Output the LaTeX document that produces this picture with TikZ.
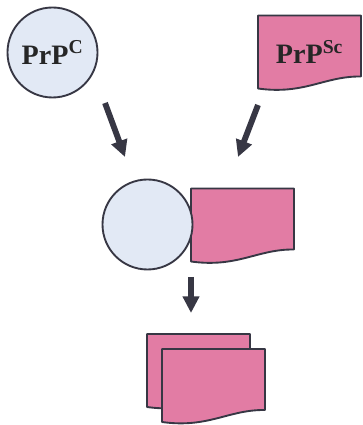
\documentclass[tikz,border=0pt]{standalone}
\usepackage{fontspec}
\setmainfont{Liberation Serif}
\definecolor{prpblue}{RGB}{226,233,245}
\definecolor{prppink}{RGB}{226,124,164}
\definecolor{prpdark}{RGB}{55,55,68}
\usetikzlibrary{arrows.meta,calc}

% folded "document" outline of a PrPSc unit, text node on top
\newcommand{\prpdoc}[3]{%
  \draw[docline] ($(#2)+(-51.5,36.5)$) -- ($(#2)+(51.5,36.5)$) -- ($(#2)+(51.5,-24.5)$)
    .. controls ($(#2)+(15,-24)$) and ($(#2)+(-5,-43)$) .. ($(#2)+(-51.5,-36.5)$) -- cycle;
  \node[prlabel] (#1) at (#2) {#3};}

\begin{document}
\begin{tikzpicture}[x=0.03cm, y=0.03cm,
  prion/.style={circle, draw=prpdark, line width=1.6pt, fill=prpblue, minimum size=2.7cm, inner sep=0pt},
  docline/.style={draw=prpdark, line width=1.6pt, fill=prppink, line join=round},
  prlabel/.style={font=\fontsize{24}{24}\selectfont\bfseries, text=black!85, inner sep=0pt},
  bigarrow/.style={prpdark, line width=5pt, -{Triangle[length=0.5cm,width=0.48cm]}}]
\useasboundingbox (0,0) rectangle (362,425);
% top row
\node[prion, prlabel, draw=prpdark, fill=prpblue, minimum size=2.7cm] (prpc) at (52.5,372.5) {PrP\textsuperscript{C}};
\prpdoc{prpsc}{309.5,373}{PrP\textsuperscript{Sc}}
% converging arrows
\coordinate (tailL) at (105,322);
\coordinate (tipL) at (125,268);
\coordinate (tailR) at (258,320);
\coordinate (tipR) at (238,268);
\draw[bigarrow] (tailL) -- (tipL);
\draw[bigarrow] (tailR) -- (tipR);
% complex
\prpdoc{cplxsc}{242.5,200}{}
\node[prion] (cplxc) at (147.5,200.5) {};
% down arrow
\coordinate (tailD) at (191,148);
\coordinate (tipD) at (191,112);
\draw[bigarrow] (tailD) -- (tipD);
% two PrPSc
\prpdoc{scback}{198.5,54.5}{}
\prpdoc{scfront}{213.5,39.5}{}
\end{tikzpicture}
\end{document}
